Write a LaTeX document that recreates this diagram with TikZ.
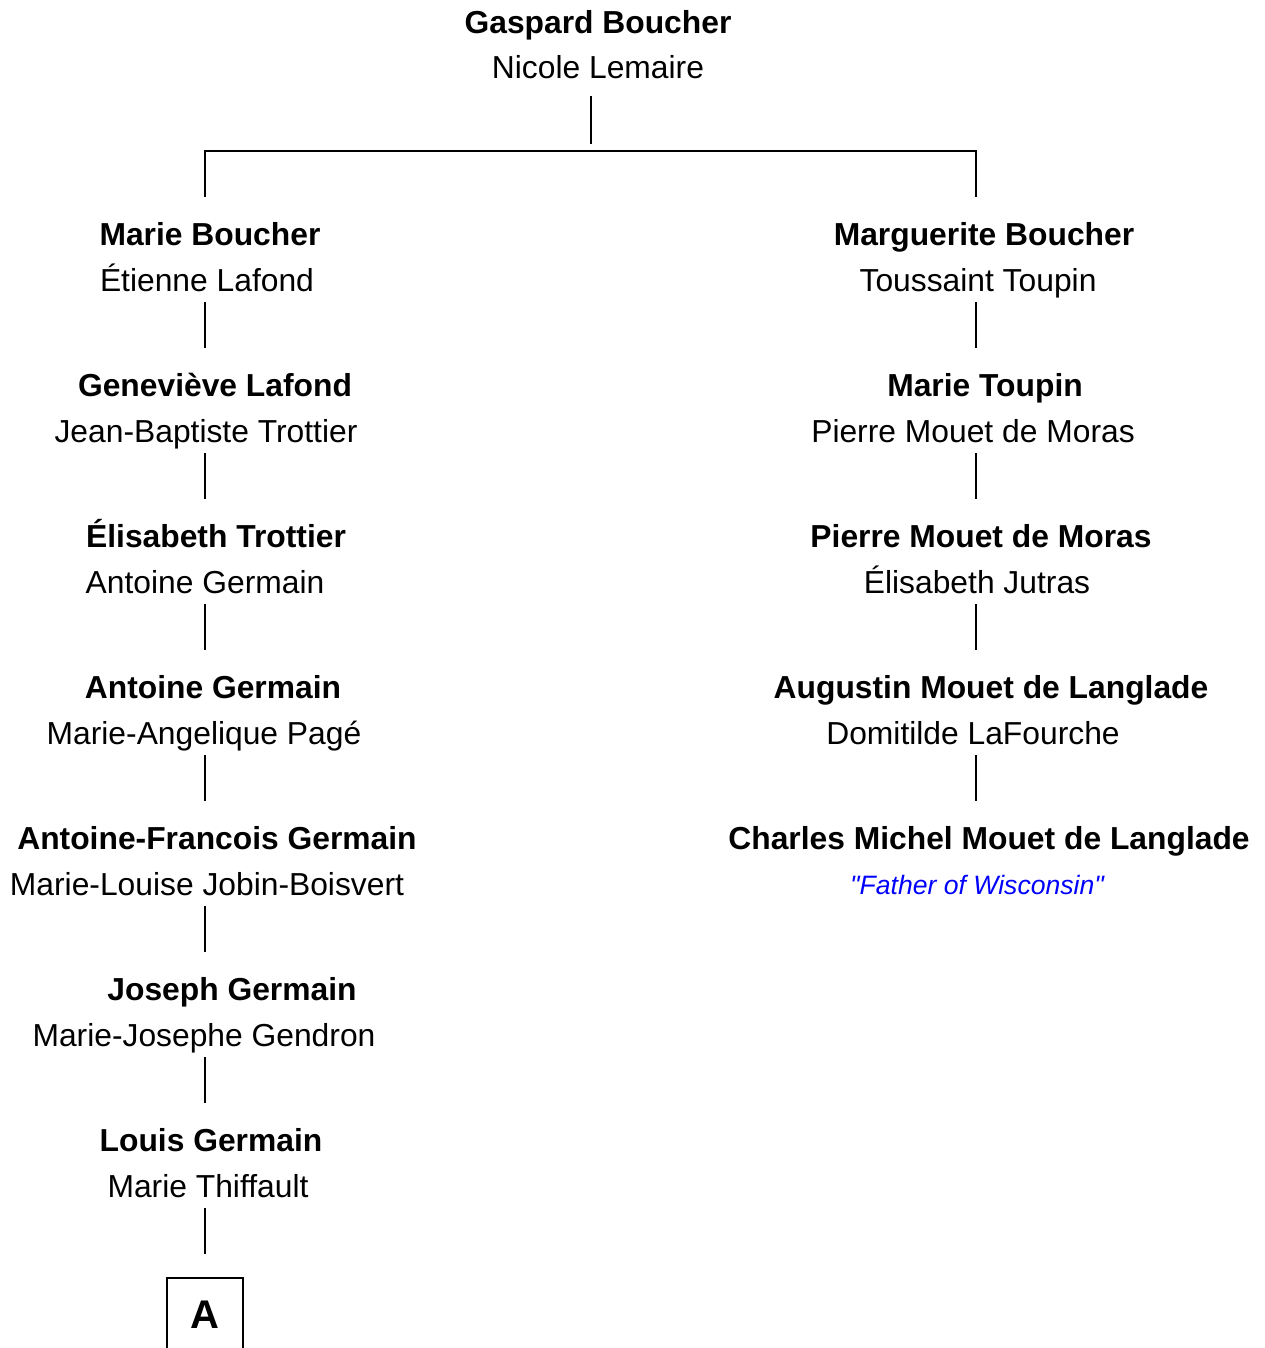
\documentclass[tikz,border=0pt]{standalone}
\usepackage{fontspec}
\setmainfont{Liberation Sans}
\usetikzlibrary{calc}
\tikzstyle{namebox}=[anchor=base, inner sep=0pt, text height=24pt, text depth=0pt,
                    font=\fontsize{15.9pt}{19pt}\selectfont]
\tikzstyle{spbox}=[anchor=base, inner sep=0pt, text height=11pt, text depth=5.5pt,
                    font=\fontsize{15.9pt}{19pt}\selectfont]
\tikzstyle{notebox}=[anchor=base, inner sep=0pt, text=blue,
                    font=\fontsize{13.3pt}{16pt}\selectfont\itshape]
\tikzstyle{abox}=[rectangle, draw=black, line width=1pt, anchor=north, minimum width=38pt,
                    inner sep=0pt, text height=25pt, text depth=25pt,
                    font=\fontsize{20pt}{24pt}\selectfont]
\tikzstyle{pline}=[-, thick]
\begin{document}
\begin{tikzpicture}[x=0.5pt, y=-0.5pt]
\useasboundingbox (0,0) rectangle (1264,1348);
\coordinate (TOPC) at (591,0);
\coordinate (FORK) at (591,151);
\coordinate (LCOL) at (205,0);
\coordinate (RCOL) at (976,0);

\node (GBOUCHER) [namebox] at (598,34) {\textbf{Gaspard Boucher}};
\node (NLEMAIRE) [spbox] at (598,79) {Nicole Lemaire};

\node (MBOUCHER) [namebox] at (210,245) {\textbf{Marie Boucher}};
\node (ELAFOND) [spbox] at (207,291) {Étienne Lafond};
\node (GLAFOND) [namebox] at (215,396) {\textbf{Geneviève Lafond}};
\node (JBTROTTIER) [spbox] at (206,442) {Jean-Baptiste Trottier};
\node (ETROTTIER) [namebox] at (216,547) {\textbf{Élisabeth Trottier}};
\node (AGERMAIN) [spbox] at (205,593) {Antoine Germain};
\node (AGERMAINB) [namebox] at (213,698) {\textbf{Antoine Germain}};
\node (MAPAGE) [spbox] at (204,744) {Marie-Angelique Pagé};
\node (AFGERMAIN) [namebox] at (217,849) {\textbf{Antoine-Francois Germain}};
\node (MLJOBIN) [spbox] at (207,895) {Marie-Louise Jobin-Boisvert};
\node (JGERMAIN) [namebox] at (232,1000) {\textbf{Joseph Germain}};
\node (MJGENDRON) [spbox] at (204,1046) {Marie-Josephe Gendron};
\node (LGERMAIN) [namebox] at (211,1151) {\textbf{Louis Germain}};
\node (MTHIFFAULT) [spbox] at (208,1197) {Marie Thiffault};
\node (ABOX) [abox] at (205,1277) {\textbf{A}};

\node (MGBOUCHER) [namebox] at (984,245) {\textbf{Marguerite Boucher}};
\node (TTOUPIN) [spbox] at (978,291) {Toussaint Toupin};
\node (MTOUPIN) [namebox] at (985,396) {\textbf{Marie Toupin}};
\node (PMMORAS) [spbox] at (973,442) {Pierre Mouet de Moras};
\node (PMMORASB) [namebox] at (981,547) {\textbf{Pierre Mouet de Moras}};
\node (EJUTRAS) [spbox] at (977,593) {Élisabeth Jutras};
\node (AMLANGLADE) [namebox] at (991,698) {\textbf{Augustin Mouet de Langlade}};
\node (DLAFOURCHE) [spbox] at (973,744) {Domitilde LaFourche};
\node (CMLANGLADE) [namebox] at (989,849) {\textbf{Charles Michel Mouet de Langlade}};
\node (FOW) [notebox] at (977,894) {\textquotedbl Father of Wisconsin\textquotedbl};

 \draw[pline, shorten <=3pt, shorten >=3.5pt] (NLEMAIRE.south -| TOPC) -- (FORK);
 \draw[pline] (MBOUCHER.north -| LCOL) |- (FORK) -| (MGBOUCHER.north -| RCOL);

 \draw[pline] (ELAFOND.south -| LCOL) -- (GLAFOND.north -| LCOL);
 \draw[pline] (JBTROTTIER.south -| LCOL) -- (ETROTTIER.north -| LCOL);
 \draw[pline] (AGERMAIN.south -| LCOL) -- (AGERMAINB.north -| LCOL);
 \draw[pline] (MAPAGE.south -| LCOL) -- (AFGERMAIN.north -| LCOL);
 \draw[pline] (MLJOBIN.south -| LCOL) -- (JGERMAIN.north -| LCOL);
 \draw[pline] (MJGENDRON.south -| LCOL) -- (LGERMAIN.north -| LCOL);
 \draw[pline, shorten >=11.5pt] (MTHIFFAULT.south -| LCOL) -- (ABOX.north);

 \draw[pline] (TTOUPIN.south -| RCOL) -- (MTOUPIN.north -| RCOL);
 \draw[pline] (PMMORAS.south -| RCOL) -- (PMMORASB.north -| RCOL);
 \draw[pline] (EJUTRAS.south -| RCOL) -- (AMLANGLADE.north -| RCOL);
 \draw[pline] (DLAFOURCHE.south -| RCOL) -- (CMLANGLADE.north -| RCOL);

\end{tikzpicture}
\end{document}
